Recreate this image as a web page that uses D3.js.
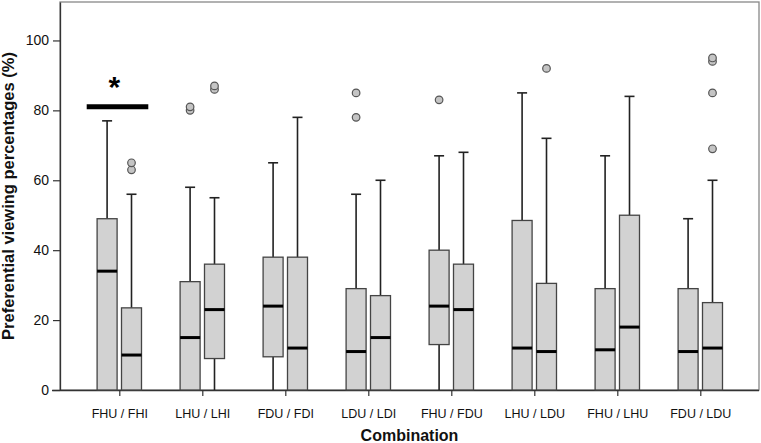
<!DOCTYPE html>
<html><head><meta charset="utf-8">
<script src="https://cdn.jsdelivr.net/npm/d3@7"></script>
<style>body{margin:0;background:#fff}svg{display:block}</style>
</head><body>
<svg id="c" width="761" height="443"></svg>
<script>
const categories = ["FHU / FHI","LHU / LHI","FDU / FDI","LDU / LDI","FHU / FDU","LHU / LDU","FHU / LHU","FDU / LDU"];
// per box: [lowerWhisker, q1, median, q3, upperWhisker]; two boxes per category
const leftBoxes = [
  [0,0,34,49,77],[0,0,15,31,58],[0,9.5,24,38,65],[0,0,11,29,56],
  [0,13,24,40,67],[0,0,12,48.5,85],[0,0,11.5,29,67],[0,0,11,29,49]
];
const rightBoxes = [
  [0,0,10,23.5,56],[0,9,23,36,55],[0,0,12,38,78],[0,0,15,27,60],
  [0,0,23,36,68],[0,0,11,30.5,72],[0,0,18,50,84],[0,0,12,25,60]
];
const leftOutliers = [[],[80,81],[],[78,85],[83],[],[],[]];
const rightOutliers = [[63,65],[86,87],[],[],[],[92],[],[69,85,94,95]];
const yTicks = [0,20,40,60,80,100];
const sigCategory = "FHU / FHI";
const sigValue = 81;

const svg = d3.select("#c");
const L=60, R=759, T=2, B=390;
const y = d3.scaleLinear().domain([0,111]).range([B,T]);
const x = d3.scalePoint().domain(categories).range([119.3,700.3]);
const boxW = 20, off = 12.2, capW = 10;

// frame
svg.append("rect").attr("x",L).attr("y",T).attr("width",R-L).attr("height",B-T)
  .attr("fill","none").attr("stroke","#888").attr("stroke-width",1.3);

// y axis
const ya = svg.append("g").attr("transform",`translate(${L},0)`)
  .call(d3.axisLeft(y).tickValues(yTicks).tickSize(7).tickPadding(4).tickSizeOuter(0));
ya.select(".domain").attr("stroke","#333").attr("stroke-width",1.3);
ya.selectAll(".tick line").attr("stroke","#333").attr("stroke-width",1.2);
ya.selectAll("text").attr("font-family","Liberation Sans, Arial, sans-serif").attr("font-size",14).attr("fill","#111");

// x axis
const xa = svg.append("g").attr("transform",`translate(0,${B})`)
  .call(d3.axisBottom(x).tickSize(6).tickPadding(13).tickSizeOuter(0));
xa.select(".domain").attr("d",`M${L-8},0.5H${R}`).attr("stroke","#333").attr("stroke-width",1.3);
xa.selectAll(".tick line").attr("stroke","#333").attr("stroke-width",1.2);
xa.selectAll("text").attr("font-family","Liberation Sans, Arial, sans-serif").attr("font-size",12.5).attr("fill","#111");

function drawBox(g, cx, b, outs){
  const [lw,q1,md,q3,uw]=b;
  g.append("line").attr("x1",cx).attr("x2",cx).attr("y1",y(q3)).attr("y2",y(uw)).attr("stroke","#222").attr("stroke-width",1.6);
  g.append("line").attr("x1",cx-capW/2).attr("x2",cx+capW/2).attr("y1",y(uw)).attr("y2",y(uw)).attr("stroke","#222").attr("stroke-width",1.6);
  if(q1>lw){
    g.append("line").attr("x1",cx).attr("x2",cx).attr("y1",y(q1)).attr("y2",y(lw)).attr("stroke","#222").attr("stroke-width",1.6);
  }
  g.append("rect").attr("x",cx-boxW/2).attr("y",y(q3)).attr("width",boxW).attr("height",y(q1)-y(q3))
    .attr("fill","#d2d2d2").attr("stroke","#444").attr("stroke-width",1.3);
  g.append("line").attr("x1",cx-boxW/2).attr("x2",cx+boxW/2).attr("y1",y(md)).attr("y2",y(md)).attr("stroke","#000").attr("stroke-width",3);
  outs.forEach(o=>{
    g.append("circle").attr("cx",cx).attr("cy",y(o)).attr("r",3.8).attr("fill","#c4c4c4").attr("stroke","#555").attr("stroke-width",1.2);
  });
}
const gb = svg.append("g");
categories.forEach((c,i)=>{
  drawBox(gb, x(c)-off, leftBoxes[i], leftOutliers[i]);
  drawBox(gb, x(c)+off, rightBoxes[i], rightOutliers[i]);
});

// significance bar
const sx = x(sigCategory);
svg.append("line").attr("x1",sx-32.6).attr("x2",sx+29).attr("y1",y(sigValue)).attr("y2",y(sigValue))
  .attr("stroke","#000").attr("stroke-width",5);
svg.append("text").attr("x",sx-5).attr("y",y(sigValue)-10).attr("text-anchor","middle")
  .attr("font-family","Liberation Sans, Arial, sans-serif").attr("font-size",30).attr("font-weight","bold").text("*");

// axis titles
svg.append("text").attr("x",(L+R)/2).attr("y",441).attr("text-anchor","middle")
  .attr("font-family","Liberation Sans, Arial, sans-serif").attr("font-size",16).attr("font-weight","bold").attr("fill","#111").text("Combination");
svg.append("text").attr("transform",`translate(14,${(T+B)/2}) rotate(-90)`).attr("text-anchor","middle")
  .attr("font-family","Liberation Sans, Arial, sans-serif").attr("font-size",16.5).attr("font-weight","bold").attr("fill","#111")
  .text("Preferential viewing percentages (%)");
</script>
</body></html>
